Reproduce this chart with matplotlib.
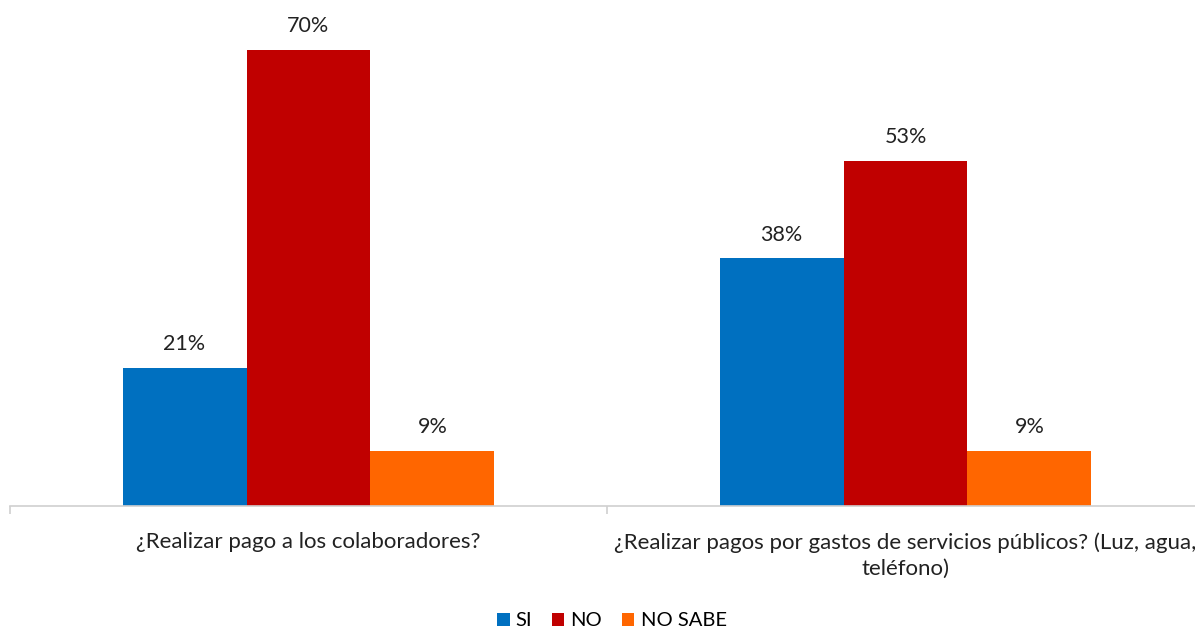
import numpy as np
import matplotlib.pyplot as plt

plt.rcParams['font.family'] = ['Lato', 'DejaVu Sans']

categories = ["¿Realizar pago a los colaboradores?",
              "¿Realizar pagos por gastos de servicios públicos? (Luz, agua,\nteléfono)"]
series = ["SI", "NO", "NO SABE"]
# bar heights (%) as drawn; labels as printed on the chart
values = [[21.2, 38.0],
          [70.0, 53.0],
          [8.5, 8.5]]
labels = [["21%", "38%"],
          ["70%", "53%"],
          ["9%", "9%"]]
colors = ["#0070C0", "#C00000", "#FF6600"]

W, H = 1195, 629
fig = plt.figure(figsize=(W / 100, H / 100), dpi=100)
# axes runs a bit past the right edge, like the original
ax = fig.add_axes([10 / W, (H - 506) / H, 1194 / W, 456 / H])

x = np.arange(len(categories))
width = 0.2077
for i, (name, vals, labs, c) in enumerate(zip(series, values, labels, colors)):
    pos = x + (i - 1) * width
    ax.bar(pos, vals, width, color=c, label=name)
    for p, v, lab in zip(pos, vals, labs):
        ax.annotate(lab, (p, v), xytext=(0, 10), textcoords='offset points',
                    ha='center', va='bottom', fontsize=15.5, color='#222222')

ax.set_xlim(-0.5, 1.5)
ax.set_ylim(0, 70)
ax.set_yticks([])
for s in ['top', 'right', 'left']:
    ax.spines[s].set_visible(False)
ax.spines['bottom'].set_color('#d0d0d0')
ax.spines['bottom'].set_linewidth(1.2)
ax.set_xticks([-0.5, 0.5, 1.5])
ax.set_xticklabels([])
ax.set_xticks(x, minor=True)
ax.set_xticklabels(categories, minor=True, fontsize=16, color='#222222',
                   linespacing=1.35)
ax.tick_params(axis='x', which='major', length=6, color='#d0d0d0', width=1.2)
ax.tick_params(axis='x', which='minor', length=0, pad=19)

ax.legend(loc='center', bbox_to_anchor=(612 / W, 8 / H), bbox_transform=fig.transFigure,
          ncol=3, frameon=False, fontsize=14.5, handlelength=0.6, handleheight=0.6,
          handletextpad=0.3, columnspacing=1.0)

fig.savefig("out.png", dpi=100)
